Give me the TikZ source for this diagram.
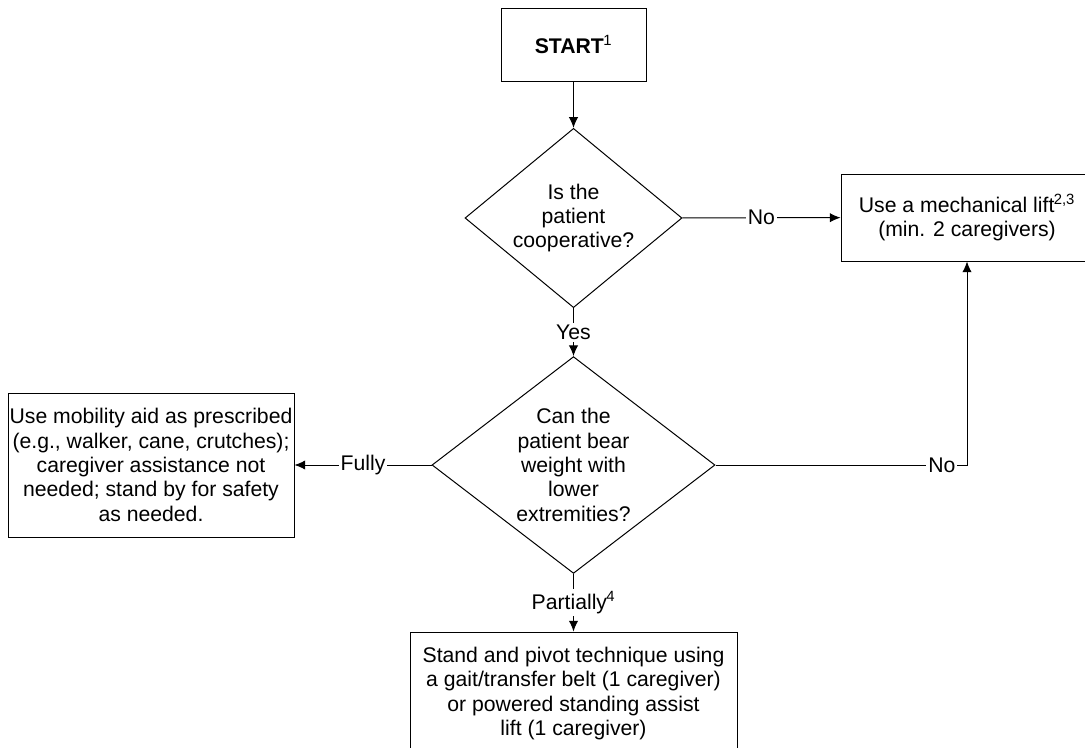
\documentclass[tikz,border=0pt]{standalone}
\usepackage{fontspec}
\setmainfont{Liberation Sans}
\usepackage{tikz}
\usetikzlibrary{shapes.geometric, arrows.meta}
\usetikzlibrary{positioning}

\begin{document}
\begin{tikzpicture}[x=0.75pt,y=0.75pt,yscale=-1,xscale=1]
  \tikzstyle{arrow} = [line width=0.75pt,->,>={Latex[length=8pt,width=7pt]}]
  \tikzstyle{txt} = [font=\fontsize{15.9}{18.3}\selectfont, align=center]
  \tikzstyle{box} = [txt, draw, line width=0.75pt, rectangle, inner sep=0pt]
  \tikzstyle{decision} = [txt, draw, line width=0.75pt, diamond, inner sep=-2pt]
  \tikzstyle{lbl} = [txt, fill=white, inner sep=1.5pt]
  %set diagram size to the page
  \useasboundingbox (0,0) rectangle (1085,747);
  \clip (0,0) rectangle (1085,747);
  % Draw the boxes
  \node [box, minimum width=108.75pt, minimum height=54.75pt] (start) at (573.5,44.5) {\textbf{START}\kern-0.5pt\textsuperscript{1}};
  \node [decision, minimum width=162.75pt, minimum height=122.25pt] (coop) at (573.5,218) {Is the\\patient\\cooperative?};
  \node [box, minimum width=189pt, minimum height=65.25pt] (lift) at (967,217.5) {Use a mechanical lift\kern-0.5pt\textsuperscript{2,3}\\(min. 2 caregivers)};
  \node [decision, minimum width=212.25pt, minimum height=147pt] (bear) at (573.5,465) {Can the\\patient bear\\weight with\\lower\\extremities?};
  \node [box, minimum width=214.5pt, minimum height=108pt] (aid) at (151,465) {Use mobility aid as prescribed\\(e.g., walker, cane, crutches);\\caregiver assistance not\\needed; stand by for safety\\as needed.};
  \node [box, minimum width=245.25pt, minimum height=92.25pt] (pivot) at (573.5,693.5) {Stand and pivot technique using\\a gait/transfer belt (1 caregiver)\\or powered standing assist\\lift (1 caregiver)};
  % Draw the connectors
  \draw [arrow] (start) -- (coop);
  \draw [arrow] (coop) -- node [lbl] {No} (lift);
  \draw [arrow] (coop) -- node [lbl] {Yes} (bear);
  \draw [arrow] (bear) -- node [lbl] {Fully} (aid);
  \draw [arrow] (bear) -| node [lbl, pos=0.45] {No} (lift);
  \draw [arrow] (bear) -- node [lbl] {Partially\kern-0.5pt\textsuperscript{4}} (pivot);
\end{tikzpicture}
\end{document}
